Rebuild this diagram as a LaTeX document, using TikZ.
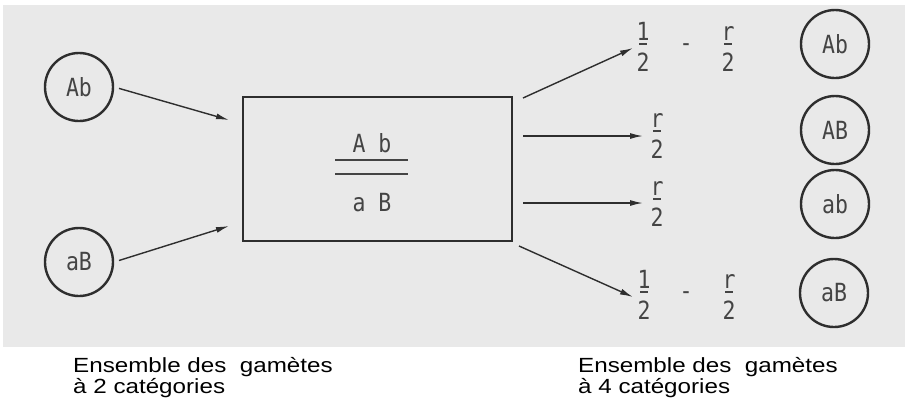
\documentclass[tikz,border=0pt]{standalone}
\usepackage{fontspec}
\usetikzlibrary{arrows.meta}
\newfontfamily\diagfont[FakeStretch=0.86]{DejaVu Sans Mono}
\newfontfamily\capfont[FakeStretch=1.18]{Liberation Sans}
\definecolor{paper}{HTML}{E9E9E9}
\definecolor{ink}{HTML}{2E2E2E}
\definecolor{letter}{HTML}{444444}

% fraction: name, x, y of the bar, numerator, denominator
\newcommand\gfrac[5]{%
  \node[txt, anchor=base] (#1n) at (#2,#3-4) {#4};
  \draw[fracbar] (#2-4,#3) -- (#2+4,#3);
  \node[txt, anchor=base] (#1d) at (#2,#3+27) {#5};}

\begin{document}
\begin{tikzpicture}[x=1pt, y=-1pt,
  txt/.style={inner sep=0pt, text=letter, font=\diagfont\fontsize{25}{27}\selectfont},
  gamete/.style={circle, draw=ink, line width=2.4pt, minimum size=68pt, inner sep=0pt,
                 text=letter, font=\diagfont\fontsize{25}{27}\selectfont},
  link/.style={draw=ink, line width=1.4pt, -{Latex[length=13pt,width=6pt]}},
  fracbar/.style={draw=letter, line width=1.6pt},
  caption/.style={inner sep=0pt, anchor=base west, text=black,
                  font=\capfont\fontsize{20.5}{21}\selectfont}]

% page and scanned sheet
\useasboundingbox (0,0) rectangle (905,405);
\fill[white] (0,0) rectangle (905,405);
\fill[paper] (3,5) rectangle (905,347);

% two gamete categories
\node[gamete] (inAb) at (79,87) {Ab};
\node[gamete] (inaB) at (79,262) {aB};

% genotype box
\node[draw=ink, line width=2.6pt, minimum width=269pt, minimum height=144pt,
      inner sep=0pt] (box) at (377.5,169) {};
\node[txt, anchor=base] (top) at (372,152) {A b};
\node[txt, anchor=base] (bot) at (372,211) {a B};
\draw[fracbar, line width=1.5pt] (335,160) -- (408,160);
\draw[fracbar, line width=1.5pt] (335,174) -- (408,174);

\coordinate (tAb) at (229,120);
\coordinate (taB) at (229,226);
\draw[link, shorten <=5pt] (inAb.east) -- (tAb);
\draw[link, shorten <=5pt] (inaB.east) -- (taB);

% four gamete categories with their frequencies
\gfrac{fa}{643}{44}{1}{2}
\node[txt, anchor=base] (ma) at (686,51) {-};
\gfrac{ra}{728}{44}{r}{2}

\gfrac{fb}{657}{131}{r}{2}
\gfrac{fc}{657}{199}{r}{2}

\gfrac{fd}{644}{292}{1}{2}
\node[txt, anchor=base] (md) at (686,299) {-};
\gfrac{rd}{729}{292}{r}{2}

\coordinate (o1) at (523,98);   \coordinate (e1) at (633,48);
\coordinate (o2) at (523,136);  \coordinate (e2) at (643,136);
\coordinate (o3) at (523,203);  \coordinate (e3) at (643,203);
\coordinate (o4) at (519,246);  \coordinate (e4) at (633,297);
\draw[link] (o1) -- (e1);
\draw[link] (o2) -- (e2);
\draw[link] (o3) -- (e3);
\draw[link] (o4) -- (e4);

\node[gamete] (outAb) at (835,44) {Ab};
\node[gamete] (outAB) at (835,130) {AB};
\node[gamete] (outab) at (835,204) {ab};
\node[gamete] (outaB) at (834,293) {aB};

% captions
\node[caption] (capL1) at (73,372) {Ensemble des\ \ gamètes};
\node[caption] (capL2) at (73,393) {à 2 catégories};
\node[caption] (capR1) at (578,372) {Ensemble des\ \ gamètes};
\node[caption] (capR2) at (578,393) {à 4 catégories};
\end{tikzpicture}
\end{document}
